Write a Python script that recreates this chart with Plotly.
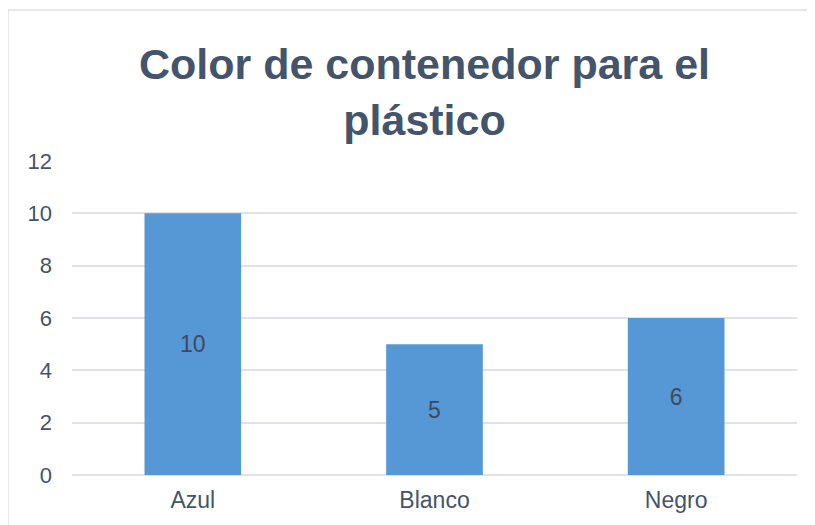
import plotly.graph_objects as go

categories = ["Azul", "Blanco", "Negro"]
values = [10, 5, 6]
y_ticks = [0, 2, 4, 6, 8, 10, 12]
title_text = "Color de contenedor para el<br>plástico"

W, H = 815, 525
OFF = 8  # page offset of the figure inside the browser window
L, R, T, B = 72 - OFF, 18 + OFF, 161 - OFF, 50 + OFF

fig = go.Figure(go.Bar(
    x=categories, y=values,
    marker=dict(color="#5698D6", line=dict(width=0)),
    text=[str(v) for v in values],
    textposition="inside", insidetextanchor="middle",
    textfont=dict(family="Liberation Sans, Arial", size=23, color="#3E4A5A"),
    hoverinfo="skip",
))

pw = W - L - R
ph = H - T - B
bx0 = (8 - OFF - L) / pw
bx1 = (W - L) / pw
by0 = -B / ph
by1 = (H - B - 10 + OFF) / ph
border = dict(color="#DCE0E6", width=1.5)
fig.update_layout(
    width=W, height=H,
    margin=dict(l=L, r=R, t=T, b=B, pad=0),
    paper_bgcolor="white", plot_bgcolor="white",
    bargap=0.6,
    showlegend=False,
    font=dict(family="Liberation Sans, Arial", color="#44546A"),
    title=dict(text=title_text, x=(424.5 - OFF) / W, xref="container", xanchor="center",
               y=1 - 71 / H, yref="container", yanchor="middle",
               font=dict(family="Liberation Sans, Arial", size=43, color="#44546A", weight="bold"),
               ),
    xaxis=dict(showgrid=False, showline=False, ticks="", tickfont=dict(size=23, color="#44546A"),
               ticklabelstandoff=9),
    yaxis=dict(range=[0, 12], tickvals=y_ticks, showgrid=True, gridcolor="#DFE2E8", gridwidth=1.5,
               zeroline=True, zerolinecolor="#DFE2E8", zerolinewidth=1.5, showline=False, ticks="",
               tickfont=dict(size=22, color="#44546A"), ticklabelstandoff=19),
    shapes=[
        dict(type="line", xref="paper", yref="paper", x0=bx0, x1=bx1, y0=by1, y1=by1,
             line=border, layer="below"),
        dict(type="line", xref="paper", yref="paper", x0=bx0, x1=bx0, y0=by0, y1=by1,
             line=border, layer="below"),
    ],
)

fig.write_html("out.html")
